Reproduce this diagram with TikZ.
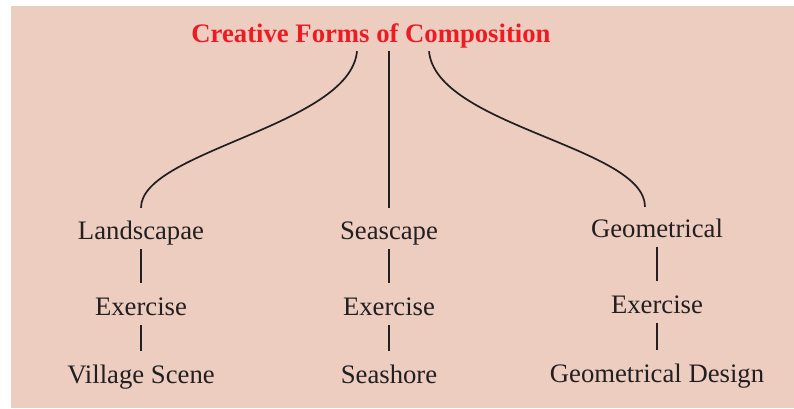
\documentclass[tikz,border=0pt]{standalone}
\usepackage{fontspec}
\setmainfont{Liberation Serif}
\usetikzlibrary{calc}
\definecolor{bgpink}{RGB}{236,205,192}
\definecolor{titlered}{RGB}{237,28,36}
\definecolor{inkblack}{RGB}{35,31,32}

\begin{document}
\begin{tikzpicture}[x=1pt,y=-1pt,
                      item/.style={text=inkblack,font=\fontsize{26.7}{32}\selectfont,
                        text height=18pt,text depth=6pt,inner xsep=3pt,inner ysep=4pt,anchor=base},
                      branch/.style={draw=inkblack,line width=1.7pt},
                      stub/.style={branch,shorten >=10pt}]
   \useasboundingbox (0,0) rectangle (794,408);
   \fill[bgpink] (11,6) rectangle (794,408);

   \node[anchor=base,text=titlered,font=\fontsize{26.7}{32}\selectfont\bfseries] (title) at (371,42)
        {Creative Forms of Composition};

   % first row
   \node[item] (land) at (141,239) {Landscapae};
   \node[item] (sea) at (389,239) {Seascape};
   \node[item] (geo) at (657,237) {Geometrical};
   % second row
   \node[item] (landex) at (141,315) {Exercise};
   \node[item] (seaex) at (389,315) {Exercise};
   \node[item] (geoex) at (657,313) {Exercise};
   % third row
   \node[item] (village) at (141,383) {Village Scene};
   \node[item] (shore) at (389,383) {Seashore};
   \node[item] (design) at (657,382) {Geometrical Design};

   % the three branches under the title
   \draw[branch,shorten >=9pt] ($(title.south -| sea.north)+(-32,0)$)
        .. controls +(-7,75) and +(0,-66) .. (land.north);
   \draw[branch,shorten >=9pt] (title.south -| sea.north) -- (sea.north);
   \draw[branch,shorten >=8pt] ($(title.south -| sea.north)+(40,0)$)
        .. controls +(7,75) and +(0,-68) .. ($(geo.north)+(-12,0)$);

   % loop over the short links
   \foreach \a/\b in {land/landex,landex/village,sea/seaex,seaex/shore,geo/geoex,geoex/design} {
     \draw[stub] (\a) -- (\b);
   }

\end{tikzpicture}
\end{document}
